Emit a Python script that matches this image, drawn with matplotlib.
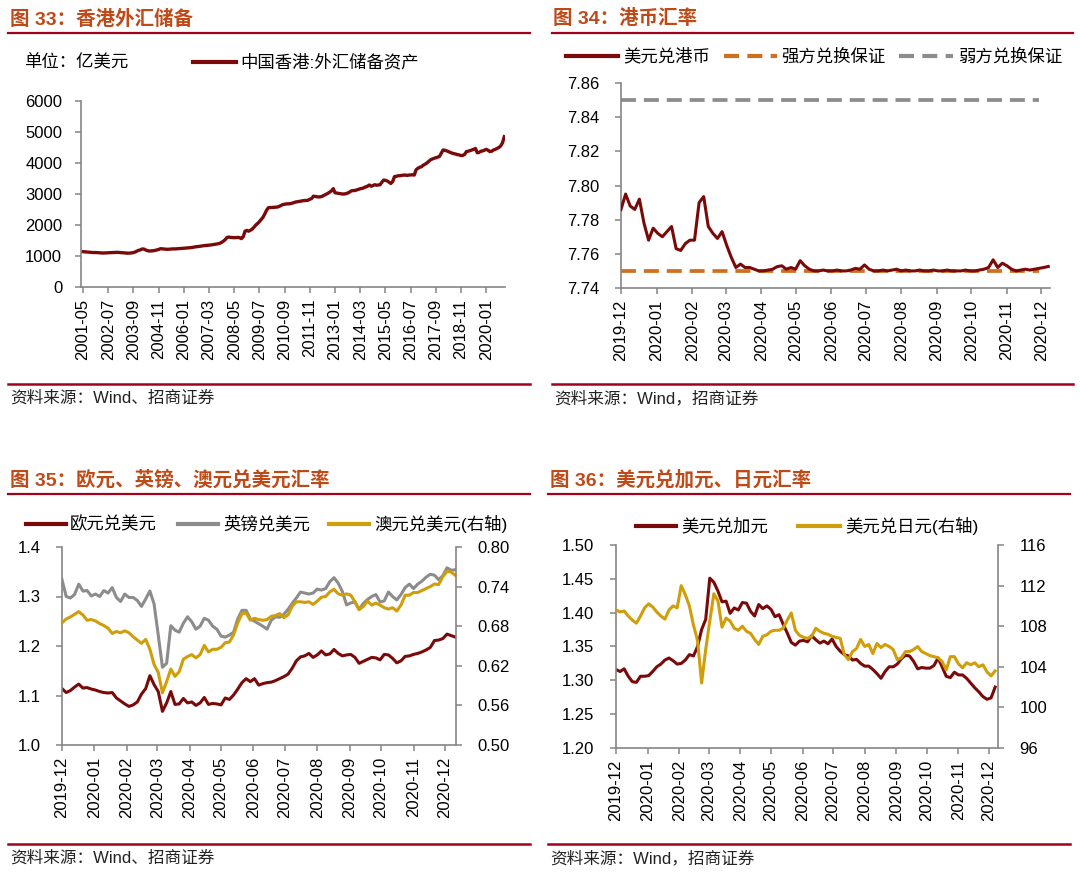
import matplotlib
matplotlib.use('Agg')
import matplotlib.pyplot as plt
import matplotlib.dates as mdates
from matplotlib.lines import Line2D
import pandas as pd

# ---------------- data ----------------
# Fig 33: HK foreign reserve assets, 100m USD, monthly 2001-05 .. 2020-11
hk_months = pd.period_range('2001-05', '2020-11', freq='M').strftime('%Y-%m').tolist()
hk_reserve = [
    1140, 1135, 1130, 1125, 1120, 1115, 1110, 1112,                          # 2001 May-Dec
    1110, 1105, 1100, 1095, 1098, 1102, 1105, 1108, 1110, 1112, 1115, 1119,  # 2002
    1115, 1110, 1105, 1100, 1095, 1090, 1095, 1100, 1110, 1130, 1160, 1184,  # 2003
    1200, 1230, 1220, 1190, 1170, 1160, 1165, 1170, 1180, 1195, 1210, 1236,  # 2004
    1230, 1225, 1220, 1215, 1220, 1225, 1230, 1228, 1232, 1235, 1240, 1243,  # 2005
    1250, 1255, 1260, 1265, 1270, 1280, 1290, 1300, 1305, 1315, 1325, 1332,  # 2006
    1340, 1345, 1350, 1355, 1365, 1375, 1385, 1395, 1410, 1440, 1480, 1527,  # 2007
    1600, 1610, 1600, 1595, 1590, 1595, 1600, 1590, 1560, 1620, 1800, 1825,  # 2008
    1800, 1830, 1870, 1930, 2000, 2050, 2110, 2180, 2250, 2360, 2480, 2558,  # 2009
    2560, 2565, 2570, 2575, 2580, 2600, 2630, 2660, 2670, 2680, 2685, 2687,  # 2010
    2700, 2720, 2740, 2750, 2760, 2770, 2780, 2790, 2790, 2800, 2830, 2854,  # 2011
    2930, 2920, 2910, 2905, 2910, 2930, 2960, 2990, 3020, 3060, 3100, 3173,  # 2012
    3040, 3030, 3020, 3010, 3000, 3000, 3010, 3030, 3060, 3100, 3110, 3112,  # 2013
    3130, 3150, 3170, 3180, 3200, 3230, 3250, 3290, 3250, 3270, 3300, 3284,  # 2014
    3290, 3300, 3380, 3450, 3440, 3420, 3380, 3340, 3400, 3560, 3570, 3588,  # 2015
    3590, 3600, 3610, 3610, 3600, 3610, 3615, 3620, 3610, 3780, 3830, 3862,  # 2016
    3880, 3930, 3960, 4000, 4050, 4100, 4130, 4150, 4170, 4190, 4210, 4314,  # 2017
    4420, 4410, 4390, 4370, 4340, 4320, 4300, 4290, 4270, 4260, 4240, 4246,  # 2018
    4280, 4370, 4380, 4400, 4420, 4440, 4470, 4330, 4340, 4380, 4390, 4414,  # 2019
    4440, 4410, 4370, 4380, 4420, 4440, 4470, 4500, 4550, 4650, 4850,        # 2020 Jan-Nov
]

# Fig 34-36: exchange rates, sampled every 4 days from 2019-12-01
fx_dates = pd.date_range('2019-12-01', periods=95, freq='4D')

usd_hkd = [
    7.786, 7.795, 7.788, 7.786, 7.792, 7.778, 7.768, 7.775, 7.772, 7.770,
    7.773, 7.776, 7.763, 7.762, 7.766, 7.768, 7.768, 7.790, 7.7935, 7.776,
    7.772, 7.769, 7.773, 7.765, 7.758, 7.752, 7.754, 7.752, 7.752, 7.751,
    7.750, 7.750, 7.7505, 7.751, 7.7525, 7.753, 7.751, 7.752, 7.751, 7.756,
    7.753, 7.751, 7.750, 7.750, 7.7505, 7.750, 7.750, 7.7505, 7.750, 7.750,
    7.7505, 7.7515, 7.751, 7.7535, 7.751, 7.750, 7.750, 7.7505, 7.750, 7.7505,
    7.751, 7.750, 7.7505, 7.750, 7.750, 7.7505, 7.750, 7.750, 7.7505, 7.750,
    7.750, 7.7505, 7.750, 7.750, 7.750, 7.7505, 7.750, 7.750, 7.7505, 7.751,
    7.752, 7.7565, 7.752, 7.7545, 7.753, 7.751, 7.750, 7.7505, 7.751, 7.7505,
    7.751, 7.7515, 7.752, 7.7526,
]
strong_side = 7.75
weak_side = 7.85
n_guarantee = 92   # the convertibility bands stop a little before the rate series

eur_usd = [
    1.114, 1.106, 1.110, 1.117, 1.123, 1.115, 1.116, 1.113, 1.111, 1.108,
    1.106, 1.105, 1.106, 1.095, 1.089, 1.083, 1.078, 1.081, 1.087, 1.103,
    1.114, 1.140, 1.122, 1.108, 1.068, 1.085, 1.108, 1.082, 1.083, 1.094,
    1.085, 1.087, 1.080, 1.085, 1.096, 1.082, 1.084, 1.083, 1.081, 1.095,
    1.092, 1.101, 1.113, 1.126, 1.134, 1.128, 1.134, 1.121, 1.124, 1.126,
    1.127, 1.130, 1.134, 1.138, 1.143, 1.155, 1.170, 1.178, 1.180, 1.185,
    1.177, 1.182, 1.190, 1.182, 1.184, 1.193, 1.185, 1.180, 1.182, 1.183,
    1.177, 1.165, 1.169, 1.173, 1.177, 1.176, 1.172, 1.183, 1.182, 1.175,
    1.166, 1.170, 1.179, 1.180, 1.183, 1.185, 1.188, 1.192, 1.197, 1.211,
    1.212, 1.215, 1.224, 1.221, 1.218,
]
gbp_usd = [
    1.334, 1.300, 1.297, 1.304, 1.325, 1.311, 1.312, 1.301, 1.305, 1.300,
    1.312, 1.307, 1.318, 1.298, 1.290, 1.305, 1.298, 1.298, 1.292, 1.280,
    1.295, 1.311, 1.285, 1.222, 1.157, 1.165, 1.241, 1.232, 1.228, 1.246,
    1.259, 1.249, 1.234, 1.240, 1.256, 1.252, 1.240, 1.234, 1.220, 1.218,
    1.222, 1.228, 1.255, 1.272, 1.272, 1.255, 1.250, 1.245, 1.240, 1.234,
    1.252, 1.259, 1.258, 1.264, 1.274, 1.286, 1.297, 1.309, 1.307, 1.305,
    1.307, 1.315, 1.313, 1.316, 1.330, 1.338, 1.327, 1.310, 1.283, 1.287,
    1.289, 1.274, 1.286, 1.294, 1.300, 1.304, 1.289, 1.291, 1.309, 1.300,
    1.293, 1.304, 1.318, 1.325, 1.316, 1.325, 1.331, 1.339, 1.345, 1.343,
    1.334, 1.342, 1.358, 1.353, 1.354,
]
aud_usd = [
    0.685, 0.691, 0.694, 0.698, 0.702, 0.697, 0.689, 0.690, 0.688, 0.684,
    0.681, 0.677, 0.669, 0.672, 0.670, 0.673, 0.670, 0.664, 0.659, 0.654,
    0.660, 0.645, 0.622, 0.610, 0.579, 0.596, 0.615, 0.604, 0.611, 0.630,
    0.634, 0.637, 0.632, 0.637, 0.651, 0.641, 0.645, 0.645, 0.648, 0.655,
    0.656, 0.667, 0.685, 0.699, 0.700, 0.689, 0.692, 0.690, 0.689, 0.690,
    0.695, 0.696, 0.699, 0.693, 0.697, 0.710, 0.717, 0.717, 0.716, 0.717,
    0.713, 0.718, 0.724, 0.725, 0.732, 0.736, 0.729, 0.727, 0.729, 0.727,
    0.717, 0.705, 0.710, 0.718, 0.712, 0.715, 0.712, 0.708, 0.706, 0.708,
    0.703, 0.712, 0.727, 0.727, 0.731, 0.731, 0.734, 0.737, 0.740, 0.744,
    0.743, 0.755, 0.763, 0.762, 0.757,
]

usd_cad = [
    1.316, 1.313, 1.317, 1.306, 1.298, 1.297, 1.306, 1.306, 1.307, 1.313,
    1.320, 1.324, 1.330, 1.333, 1.329, 1.324, 1.325, 1.330, 1.338, 1.336,
    1.350, 1.375, 1.390, 1.451, 1.445, 1.432, 1.416, 1.417, 1.399, 1.407,
    1.404, 1.415, 1.414, 1.402, 1.395, 1.412, 1.406, 1.410, 1.405, 1.394,
    1.397, 1.383, 1.370, 1.356, 1.352, 1.358, 1.359, 1.357, 1.366, 1.360,
    1.355, 1.358, 1.354, 1.361, 1.350, 1.343, 1.338, 1.336, 1.330, 1.331,
    1.325, 1.321, 1.321, 1.316, 1.310, 1.303, 1.313, 1.320, 1.320, 1.324,
    1.332, 1.337, 1.336, 1.328, 1.317, 1.319, 1.318, 1.318, 1.322, 1.333,
    1.320, 1.306, 1.304, 1.312, 1.308, 1.308, 1.303, 1.296, 1.289, 1.283,
    1.276, 1.272, 1.274, 1.290,
]
usd_jpy = [
    109.6, 109.4, 109.5, 109.0, 108.6, 108.3, 109.0, 109.8, 110.2, 109.9,
    109.4, 109.0, 108.7, 109.6, 110.0, 109.8, 112.0, 111.1, 110.0, 108.1,
    106.6, 102.4, 105.7, 108.5, 111.2, 110.5, 107.9, 108.8, 108.5, 107.8,
    107.6, 108.0, 107.5, 107.3, 106.7, 106.2, 107.0, 107.15, 107.5, 107.6,
    107.6, 107.8, 108.6, 109.3, 107.6, 107.1, 106.9, 106.8, 107.0, 107.8,
    107.5, 107.3, 107.2, 107.0, 106.9, 106.8, 105.2, 104.7, 105.5, 105.8,
    106.7, 106.0, 106.2, 105.3, 106.3, 105.9, 106.2, 106.0, 105.7, 104.7,
    104.9, 105.5, 105.5, 105.7, 106.0, 105.5, 105.3, 105.1, 105.0, 104.9,
    104.5, 103.7, 105.0, 105.0, 104.3, 103.9, 104.4, 104.2, 104.4, 104.0,
    104.2, 103.5, 103.1, 103.6,
]

# ---------------- style ----------------
W, H = 1080, 874
DARK_RED = '#7A0A0A'
GOLD = '#CF9E0A'
GREY = '#8C8C8C'
ORANGE = '#D0701E'
RULE = '#A3001B'
TITLE = '#BF4A17'
AXIS = '#858585'
FONTS = ['Liberation Sans', 'Noto Sans CJK SC']

plt.rcParams['font.family'] = FONTS

fig = plt.figure(figsize=(W / 100, H / 100), dpi=100)


def fy(y):
    return 1 - y / H


def add_axes(left, top, right, bottom):
    ax = fig.add_axes([left / W, fy(bottom), (right - left) / W, (bottom - top) / H])
    ax.set_facecolor('none')
    ax.spines['top'].set_visible(False)
    ax.spines['right'].set_visible(False)
    for side in ('left', 'bottom'):
        ax.spines[side].set_color(AXIS)
        ax.spines[side].set_linewidth(1.2)
    ax.tick_params(colors=AXIS, labelcolor='black', labelsize=12, length=4.5, width=1.1)
    ax.tick_params(axis='y', pad=11)
    ax.tick_params(axis='x', pad=4, labelrotation=90)
    return ax


def right_axis(ax):
    ax2 = ax.twinx()
    for side in ('top', 'left', 'bottom'):
        ax2.spines[side].set_visible(False)
    ax2.spines['right'].set_color(AXIS)
    ax2.spines['right'].set_linewidth(1.2)
    ax2.tick_params(colors=AXIS, labelcolor='black', labelsize=12, length=4.5, width=1.1, pad=11)
    return ax2


def header(x_text, x0, x1, y_text, y_rule, title):
    fig.text(x_text / W, fy(y_text), title, fontsize=14, fontweight='bold',
             color=TITLE, va='center', ha='left')
    fig.add_artist(Line2D([x0 / W, x1 / W], [fy(y_rule)] * 2, color=RULE, lw=1.6))


def footer(x0, x1, y_rule, y_text, text):
    fig.add_artist(Line2D([x0 / W, x1 / W], [fy(y_rule)] * 2, color=RULE, lw=1.8))
    fig.text((x0 + 2) / W, fy(y_text), text, fontsize=12, color='#222222', va='center')


def legend_item(x0, x1, y, x_text, label, **kw):
    fig.add_artist(Line2D([x0 / W, x1 / W], [fy(y)] * 2, **kw))
    fig.text(x_text / W, fy(y), label, fontsize=12.5, va='center', ha='left')


def date_axis(ax, days):
    ax.xaxis.set_major_locator(mdates.MonthLocator())
    ax.xaxis.set_major_formatter(mdates.DateFormatter('%Y-%m'))
    start = pd.Timestamp('2019-12-01')
    ax.set_xlim(start, start + pd.Timedelta(days=days))


LW = 2.2
DASH = dict(lw=2.7, linestyle=(0, (4, 2.1)))

# ---------------- Fig 33 ----------------
header(10, 8, 530, 19, 33, '图 33：香港外汇储备')
ax1 = add_axes(81, 101, 505, 287)
ax1.plot(range(len(hk_reserve)), hk_reserve, color=DARK_RED, lw=2.4)
ax1.set_ylim(0, 6000)
ax1.set_yticks(range(0, 6001, 1000))
ax1.set_xlim(-1.1, 234.4)
tick_idx = list(range(0, len(hk_months), 14))
ax1.set_xticks(tick_idx)
ax1.set_xticklabels([hk_months[i] for i in tick_idx])
ax1.tick_params(axis='y', pad=9)
fig.text(24 / W, fy(62), '单位：亿美元', fontsize=12.5, va='center')
legend_item(193, 236, 62, 240, '中国香港:外汇储备资产', color=DARK_RED, lw=3)
footer(8, 530, 384, 398, '资料来源：Wind、招商证券')

# ---------------- Fig 34 ----------------
header(553, 552, 1073, 19, 33, '图 34：港币汇率')
ax2 = add_axes(621, 83, 1050, 288)
n_hkd = len(usd_hkd)
ax2.plot(fx_dates[:n_hkd], usd_hkd, color=DARK_RED, lw=LW, zorder=3)
ax2.plot(fx_dates[:n_guarantee], [strong_side] * n_guarantee, color=ORANGE, zorder=2, **DASH)
ax2.plot(fx_dates[:n_guarantee], [weak_side] * n_guarantee, color=GREY, zorder=2, **DASH)
ax2.set_ylim(7.74, 7.86)
ax2.set_yticks([7.74, 7.76, 7.78, 7.80, 7.82, 7.84, 7.86])
ax2.yaxis.set_major_formatter(matplotlib.ticker.FormatStrFormatter('%.2f'))
date_axis(ax2, 373.5)
legend_item(566, 618, 56, 623, '美元兑港币', color=DARK_RED, lw=3)
legend_item(724, 777, 56, 781, '强方兑换保证', color=ORANGE, lw=3, linestyle=(0, (3.6, 2)))
legend_item(899, 953, 56, 958, '弱方兑换保证', color=GREY, lw=3, linestyle=(0, (3.6, 2)))
footer(552, 1073, 384, 398, '资料来源：Wind，招商证券')

# ---------------- Fig 35 ----------------
header(10, 8, 530, 480, 494, '图 35：欧元、英镑、澳元兑美元汇率')
ax3 = add_axes(62, 547, 456, 745)
ax3.plot(fx_dates[:len(eur_usd)], eur_usd, color=DARK_RED, lw=LW)
ax3.plot(fx_dates[:len(gbp_usd)], gbp_usd, color=GREY, lw=LW)
ax3.set_ylim(1.0, 1.4)
ax3.set_yticks([1.0, 1.1, 1.2, 1.3, 1.4])
ax3.yaxis.set_major_formatter(matplotlib.ticker.FormatStrFormatter('%.1f'))
date_axis(ax3, 376.6)
ax3r = right_axis(ax3)
ax3r.plot(fx_dates[:len(aud_usd)], aud_usd, color=GOLD, lw=LW)
ax3r.set_ylim(0.50, 0.80)
ax3r.set_yticks([0.50, 0.56, 0.62, 0.68, 0.74, 0.80])
ax3r.yaxis.set_major_formatter(matplotlib.ticker.FormatStrFormatter('%.2f'))
legend_item(26, 66, 524, 70, '欧元兑美元', color=DARK_RED, lw=3)
legend_item(178, 218, 524, 223, '英镑兑美元', color=GREY, lw=3)
legend_item(329, 369, 524, 374, '澳元兑美元(右轴)', color=GOLD, lw=3)
footer(8, 530, 844, 858, '资料来源：Wind、招商证券')

# ---------------- Fig 36 ----------------
header(550, 548, 1070, 480, 494, '图 36：美元兑加元、日元汇率')
ax4 = add_axes(616, 545, 998, 748)
ax4.plot(fx_dates[:len(usd_cad)], usd_cad, color=DARK_RED, lw=LW)
ax4.set_ylim(1.20, 1.50)
ax4.set_yticks([1.20, 1.25, 1.30, 1.35, 1.40, 1.45, 1.50])
ax4.yaxis.set_major_formatter(matplotlib.ticker.FormatStrFormatter('%.2f'))
date_axis(ax4, 374.8)
ax4r = right_axis(ax4)
ax4r.plot(fx_dates[:len(usd_jpy)], usd_jpy, color=GOLD, lw=LW)
ax4r.set_ylim(96, 116)
ax4r.set_yticks(range(96, 117, 4))
legend_item(636, 676, 526, 681, '美元兑加元', color=DARK_RED, lw=3)
legend_item(798, 840, 526, 845, '美元兑日元(右轴)', color=GOLD, lw=3)
footer(548, 1070, 844, 858, '资料来源：Wind，招商证券')

fig.savefig('out.png', dpi=100, facecolor='white')
